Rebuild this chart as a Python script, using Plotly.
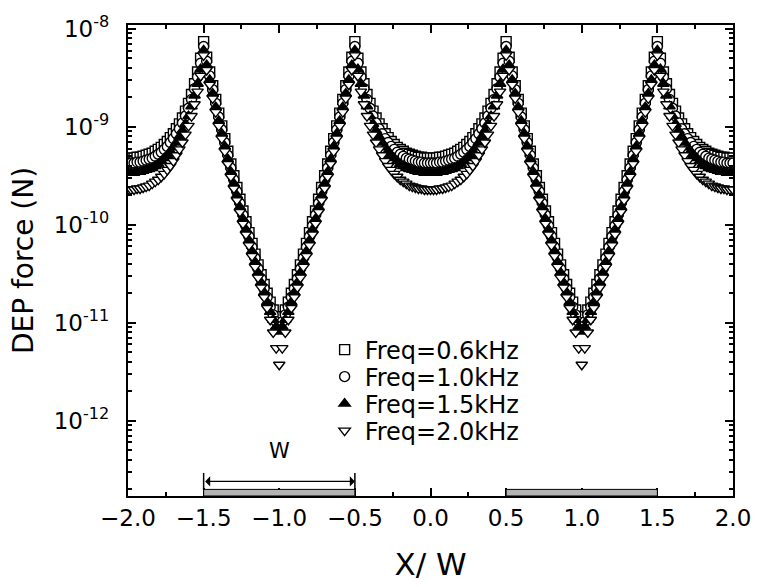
import plotly.graph_objects as go

# Half-period profile: u = distance from gap centre (0) through electrode edge (0.5)
# to electrode centre (1.0), step 0.02. Values are log10(DEP force / N).
U_STEP = 0.02

LOG_F_06 = [-9.32, -9.32, -9.32, -9.31, -9.31, -9.30, -9.29, -9.28, -9.27, -9.25,
            -9.23, -9.21, -9.18, -9.15, -9.11, -9.07, -9.02, -8.97, -8.91, -8.84,
            -8.76, -8.67, -8.56, -8.44, -8.30, -8.13,
            -8.29, -8.44, -8.58, -8.72, -8.86, -8.99, -9.12, -9.25, -9.38, -9.50,
            -9.62, -9.74, -9.86, -9.97, -10.08, -10.19, -10.30, -10.41, -10.51, -10.61,
            -10.70, -10.79, -10.87, -10.94, -10.98]

LOG_F_10 = [-9.37, -9.37, -9.37, -9.36, -9.36, -9.35, -9.34, -9.33, -9.32, -9.30,
            -9.28, -9.26, -9.23, -9.20, -9.16, -9.12, -9.07, -9.02, -8.96, -8.89,
            -8.81, -8.72, -8.61, -8.49, -8.35, -8.18,
            -8.33, -8.48, -8.62, -8.76, -8.90, -9.03, -9.16, -9.29, -9.42, -9.54,
            -9.66, -9.78, -9.90, -10.01, -10.12, -10.23, -10.34, -10.45, -10.55, -10.65,
            -10.74, -10.84, -10.92, -10.99, -11.04]

LOG_F_15 = [-9.47, -9.47, -9.47, -9.46, -9.46, -9.45, -9.44, -9.43, -9.42, -9.40,
            -9.38, -9.35, -9.32, -9.29, -9.25, -9.21, -9.16, -9.10, -9.04, -8.97,
            -8.89, -8.79, -8.68, -8.56, -8.41, -8.22,
            -8.37, -8.52, -8.66, -8.80, -8.94, -9.07, -9.20, -9.33, -9.46, -9.58,
            -9.70, -9.82, -9.94, -10.05, -10.16, -10.27, -10.38, -10.49, -10.59, -10.69,
            -10.79, -10.89, -10.97, -11.04, -11.09]

LOG_F_20 = [-9.64, -9.64, -9.64, -9.63, -9.63, -9.62, -9.61, -9.60, -9.58, -9.56,
            -9.54, -9.51, -9.48, -9.44, -9.40, -9.35, -9.29, -9.23, -9.16, -9.08,
            -8.99, -8.89, -8.77, -8.64, -8.48, -8.27,
            -8.42, -8.57, -8.71, -8.85, -8.99, -9.12, -9.25, -9.38, -9.51, -9.63,
            -9.75, -9.87, -9.99, -10.10, -10.21, -10.32, -10.43, -10.54, -10.64, -10.74,
            -10.85, -10.97, -11.10, -11.26, -11.43]

SERIES_NAMES = ["Freq=0.6kHz", "Freq=1.0kHz", "Freq=1.5kHz", "Freq=2.0kHz"]
ELECTRODES = [(-1.5, -0.5), (0.5, 1.5)]
X_TICKS = [-2.0, -1.5, -1.0, -0.5, 0.0, 0.5, 1.0, 1.5, 2.0]
Y_TICK_VALUES = [1e-12, 1e-11, 1e-10, 1e-9, 1e-8]
Y_TICK_TEXT = ["10<sup>-12</sup>", "10<sup>-11</sup>", "10<sup>-10</sup>", "10<sup>-9</sup>", "10<sup>-8</sup>"]

n_half = len(LOG_F_06)
n_total = 4 * (n_half - 1) + 1
X = [round(-2 + U_STEP * i, 2) for i in range(n_total)]


def full_period(p):
    # gap centre -2 -> electrode centre -1 -> gap centre 0 -> electrode centre 1 -> gap centre 2
    seq = p + p[-2::-1] + p[1:] + p[-2::-1]
    return [10 ** v for v in seq]


styles = [
    dict(symbol="square", color="white"),
    dict(symbol="circle", color="white"),
    dict(symbol="triangle-up", color="black"),
    dict(symbol="triangle-down", color="white"),
]
legend_ids = ["legend", "legend2", "legend3", "legend4"]

FONT = "DejaVu Sans, Verdana, sans-serif"

fig = go.Figure()
for name, prof, st, lg in zip(SERIES_NAMES, [LOG_F_06, LOG_F_10, LOG_F_15, LOG_F_20], styles, legend_ids):
    fig.add_trace(go.Scatter(
        x=X, y=full_period(prof), mode="markers", name=name, legend=lg,
        marker=dict(symbol=st["symbol"], size=10, color=st["color"],
                    line=dict(color="black", width=1.4)),
    ))

# electrode bars
for x0, x1 in ELECTRODES:
    fig.add_shape(type="rect", xref="x", yref="paper", x0=x0, x1=x1, y0=0.0, y1=0.014,
                  fillcolor="#b4b4b4", line=dict(color="black", width=1))

# W dimension marker
for xe in ELECTRODES[0]:
    fig.add_shape(type="line", xref="x", yref="paper", x0=xe, x1=xe, y0=0.013, y1=0.049,
                  line=dict(color="black", width=1.5))
fig.add_annotation(x=ELECTRODES[0][1], y=0.031, xref="x", yref="paper",
                   ax=ELECTRODES[0][0], ay=0, axref="x", ayref="pixel",
                   showarrow=True, arrowhead=1, arrowside="end+start", arrowsize=1.4,
                   arrowwidth=1.2, arrowcolor="black", text="")
fig.add_annotation(x=sum(ELECTRODES[0]) / 2, y=0.066, xref="x", yref="paper",
                   text="W", showarrow=False, font=dict(family=FONT, size=21, color="black"))

axis_common = dict(showline=True, linecolor="black", linewidth=2.2, mirror="ticks",
                   ticks="inside", ticklen=8, tickwidth=2, tickcolor="black",
                   showgrid=False, zeroline=False, automargin=False)

legend_rows = [0.310, 0.2527, 0.1953, 0.138]
legend_layout = {}
for lg, yrow in zip(legend_ids, legend_rows):
    legend_layout[lg] = dict(x=0.325, y=yrow, xanchor="left", yanchor="middle",
                             bgcolor="rgba(0,0,0,0)",
                             font=dict(family=FONT, size=24, color="black"),
                             itemwidth=30)

fig.update_layout(
    width=757, height=587,
    margin=dict(l=128, r=24, t=25, b=91),
    plot_bgcolor="white", paper_bgcolor="white",
    showlegend=True,
    xaxis=dict(range=[-2, 2], tickvals=X_TICKS, tickformat=".1f",
               tickfont=dict(family=FONT, size=23, color="black"),
               minor=dict(dtick=0.25, ticks="inside", ticklen=4, tickwidth=1.5, tickcolor="black"),
               title=dict(text="X/ W", font=dict(family=FONT, size=31, color="black"), standoff=24),
               **axis_common),
    yaxis=dict(type="log", range=[-12.77, -7.96], tickvals=Y_TICK_VALUES, ticktext=Y_TICK_TEXT,
               tickfont=dict(family=FONT, size=23, color="black"),
               ticklabelstandoff=12,
               minor=dict(dtick="D1", ticks="inside", ticklen=4, tickwidth=1.5, tickcolor="black"),
               title=dict(text="DEP force (N)", font=dict(family=FONT, size=28, color="black"), standoff=12),
               **axis_common),
    **legend_layout,
)

fig.write_html("out.html")
